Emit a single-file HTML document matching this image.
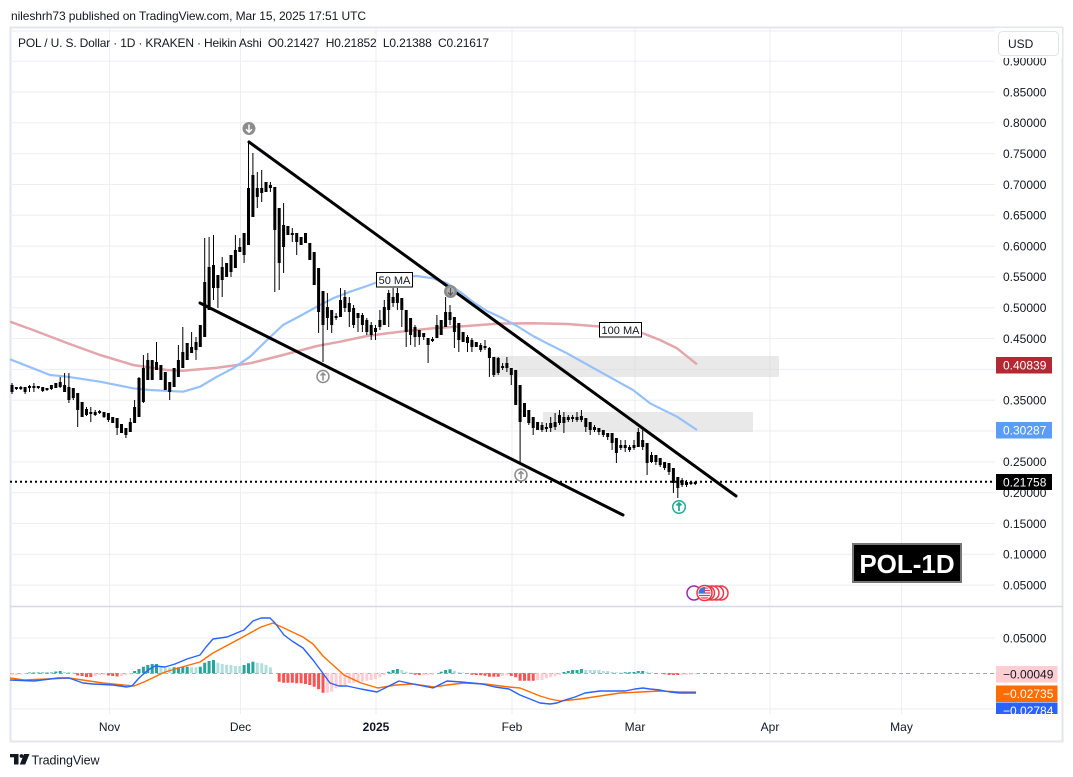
<!DOCTYPE html>
<html><head><meta charset="utf-8"><style>
html,body{margin:0;padding:0;background:#fff;}
svg{display:block;font-family:"Liberation Sans",Arial,sans-serif;}
text{white-space:pre;}
</style></head><body>
<svg width="1073" height="777" viewBox="0 0 1073 777" xmlns="http://www.w3.org/2000/svg">
<defs>
<clipPath id="mainclip"><rect x="10" y="28" width="985" height="578"/></clipPath>
<clipPath id="macdclip"><rect x="10" y="607" width="1053" height="107"/></clipPath>
<clipPath id="flagclip"><circle cx="704.5" cy="593" r="6"/></clipPath>
</defs>
<rect width="1073" height="777" fill="#fff"/>
<!-- header -->
<text x="11" y="20" font-size="12" fill="#131722" textLength="355" lengthAdjust="spacing">nileshrh73 published on TradingView.com, Mar 15, 2025 17:51 UTC</text>
<!-- frame -->
<rect x="10.5" y="27.5" width="1052" height="714" fill="none" stroke="#e3e6ec" stroke-width="2"/>
<!-- gridlines -->
<g stroke="#eceef2" stroke-width="1">
<path d="M10 31H995M10 61.2H995M10 92H995M10 122.8H995M10 153.7H995M10 184.5H995M10 215.3H995M10 246.1H995M10 276.9H995M10 307.8H995M10 338.6H995M10 369.4H995M10 400.2H995M10 431H995M10 461.9H995M10 492.7H995M10 523.5H995M10 554.3H995M10 585.1H995"/>
<path d="M10 638H995M10 709H995"/>
<path d="M109.5 28V714M240.5 28V714M376 28V714M512 28V714M635 28V714M770 28V714M901.5 28V714"/>
</g>
<text x="18" y="47" font-size="12" fill="#131722" textLength="471" lengthAdjust="spacing">POL / U. S. Dollar · 1D · KRAKEN · Heikin Ashi  O0.21427  H0.21852  L0.21388  C0.21617</text>
<g clip-path="url(#mainclip)">
<!-- zones -->
<rect x="492" y="356" width="287" height="21" fill="#d4d4d4" fill-opacity="0.5"/>
<rect x="543" y="412" width="210" height="20" fill="#d4d4d4" fill-opacity="0.5"/>
<!-- MAs -->
<polyline fill="none" stroke="#e2a6ab" stroke-width="2.5" stroke-linejoin="round" points="10,321.7 33,330 67,343 100,355 133,365 167,370 183,370.7 217,367.7 250,363.3 283,355 317,346 340,341.7 367,336 400,331.7 433,328.3 467,326 500,323.5 533,323.3 567,324 600,326.5 620,329 643,333.3 660,340 677,348.3 697,364.3"/>
<polyline fill="none" stroke="#95c1f8" stroke-width="2.2" stroke-linejoin="round" points="10,359.3 33,368.3 50,375 67,376.7 100,381.7 133,388.3 150,390 183,391.7 200,386.7 217,376.7 233,368.3 250,356.7 267,340 283,325 300,316 317,306.7 333,298.3 350,291.7 367,286 383,280 400,276.7 417,276 433,278.3 447,283.3 460,291.7 473,302 487,311 500,317 517,326 533,336 547,343.3 567,353.3 600,371.7 633,390 650,403.3 677,416.7 697,430"/>
<!-- wicks -->
<path stroke="#000" stroke-width="1" fill="none" d="M12 383V394 M16.4 387V390 M20.8 386V390 M25.1 387V394 M29.5 385V392 M33.9 383V392 M38.3 386V389 M42.7 387V392 M47 388V391 M51.4 385V390 M55.8 383V388 M60.2 377V388 M64.6 373V392 M68.9 373V403 M73.3 388V400 M77.7 393V427 M82.1 402V417 M86.5 407V416 M90.8 407V422 M95.2 410V416 M99.6 410V414 M104 412V418 M108.4 413V422 M112.7 417V423 M117.1 418V435 M121.5 424V433 M125.9 428V438 M130.3 418V432 M134.6 400V423 M139 377V417 M143.4 355V403 M147.8 353V380 M152.2 360V380 M156.5 342V370 M160.9 365V380 M165.3 372V390 M169.7 382V400 M174.1 368V387 M178.4 345V377 M182.8 327V368 M187.2 343V360 M191.6 332V353 M196 337V360 M200.3 325V347 M204.7 238V337 M209.1 237V310 M213.5 235V300 M217.9 275V308 M222.2 257V297 M226.6 263V277 M231 255V277 M235.4 235V268 M239.8 238V252 M244.1 233V263 M248.5 142V245 M252.9 153V217 M257.3 172V208 M261.7 170V202 M266 182V192 M270.4 182V192 M274.8 187V292 M279.2 208V290 M283.6 203V273 M287.9 226V235 M292.3 228V242 M296.7 233V255 M301.1 237V245 M305.5 233V243 M309.8 243V260 M314.2 252V285 M318.6 268V333 M323 291V362 M327.4 293V330 M331.7 310V333 M336.1 313V320 M340.5 288V317 M344.9 290V312 M349.3 297V327 M353.6 305V328 M358 313V332 M362.4 313V332 M366.8 318V335 M371.2 322V340 M375.5 325V340 M379.9 310V330 M384.3 300V325 M388.7 290V327 M393.1 288V307 M397.4 288V310 M401.8 298V327 M406.2 310V347 M410.6 318V345 M415 325V347 M419.3 330V345 M423.7 333V340 M428.1 338V363 M432.5 337V342 M436.9 315V338 M441.2 320V335 M445.6 297V327 M450 305V325 M454.4 317V348 M458.8 323V352 M463.1 332V342 M467.5 335V352 M471.9 338V352 M476.3 342V347 M480.7 343V352 M485 340V350 M489.4 347V377 M493.8 357V377 M498.2 357V375 M502.6 363V370 M506.9 357V372 M511.3 368V385 M515.7 370V405 M520.1 385V462 M524.5 403V417 M528.8 410V425 M533.2 417V435 M537.6 422V430 M542 422V432 M546.4 423V432 M550.7 417V432 M555.1 413V430 M559.5 410V425 M563.9 412V433 M568.3 415V422 M572.6 415V422 M577 412V422 M581.4 410V422 M585.8 418V432 M590.2 422V435 M594.5 425V432 M598.9 428V435 M603.3 430V437 M607.7 433V440 M612.1 433V450 M616.4 438V463 M620.8 440V450 M625.2 440V452 M629.6 445V452 M634 440V450 M638.3 428V447 M642.7 430V450 M647.1 443V475 M651.5 452V463 M655.9 455V465 M660.2 458V467 M664.6 462V470 M669 463V475 M673.4 468V493 M677.8 477V498 M682.1 478V487 M686.5 480V487 M690.9 481V485 M695.3 481V485"/>
<!-- bodies -->
<path stroke="#000" stroke-width="3" fill="none" d="M12 385V392 M16.4 387V389 M20.8 387V389 M25.1 387V392 M29.5 386V388 M33.9 386V388 M38.3 386V388 M42.7 387V391 M47 388V390 M51.4 385V389 M55.8 383V388 M60.2 382V387 M64.6 385V392 M68.9 387V400 M73.3 388V398 M77.7 393V410 M82.1 402V417 M86.5 409V415 M90.8 412V414 M95.2 412V415 M99.6 411V413 M104 412V417 M108.4 413V420 M112.7 417V423 M117.1 418V428 M121.5 424V433 M125.9 428V435 M130.3 422V432 M134.6 407V423 M139 378V417 M143.4 368V402 M147.8 360V380 M152.2 360V380 M156.5 362V370 M160.9 365V380 M165.3 372V390 M169.7 382V392 M174.1 368V387 M178.4 360V377 M182.8 352V368 M187.2 343V360 M191.6 347V353 M196 342V350 M200.3 325V347 M204.7 282V337 M209.1 267V310 M213.5 265V288 M217.9 275V288 M222.2 267V280 M226.6 263V277 M231 255V272 M235.4 250V268 M239.8 247V252 M244.1 233V255 M248.5 188V245 M252.9 175V217 M257.3 188V197 M261.7 188V193 M266 182V192 M270.4 185V188 M274.8 187V230 M279.2 208V263 M283.6 225V247 M287.9 226V235 M292.3 233V235 M296.7 233V242 M301.1 237V245 M305.5 233V243 M309.8 243V260 M314.2 252V285 M318.6 268V312 M323 291V325 M327.4 307V318 M331.7 310V325 M336.1 316V318 M340.5 300V317 M344.9 297V308 M349.3 303V312 M353.6 308V325 M358 313V318 M362.4 315V325 M366.8 320V332 M371.2 325V335 M375.5 328V332 M379.9 320V327 M384.3 307V325 M388.7 293V310 M393.1 297V303 M397.4 293V303 M401.8 298V310 M406.2 310V332 M410.6 318V335 M415 327V337 M419.3 330V337 M423.7 333V337 M428.1 338V345 M432.5 339V341 M436.9 325V338 M441.2 320V335 M445.6 312V327 M450 312V320 M454.4 317V332 M458.8 323V340 M463.1 332V342 M467.5 337V343 M471.9 340V347 M476.3 342V347 M480.7 345V350 M485 346V348 M489.4 348V358 M493.8 357V375 M498.2 358V373 M502.6 366V368 M506.9 363V368 M511.3 368V375 M515.7 370V405 M520.1 385V422 M524.5 403V417 M528.8 410V423 M533.2 417V428 M537.6 422V430 M542 425V430 M546.4 427V429 M550.7 423V428 M555.1 422V427 M559.5 415V423 M563.9 417V423 M568.3 417V420 M572.6 417V419 M577 417V420 M581.4 416V420 M585.8 418V427 M590.2 422V430 M594.5 427V430 M598.9 428V432 M603.3 430V435 M607.7 433V437 M612.1 433V443 M616.4 438V453 M620.8 445V448 M625.2 445V448 M629.6 447V450 M634 445V448 M638.3 432V447 M642.7 440V447 M647.1 443V463 M651.5 455V462 M655.9 455V462 M660.2 458V465 M664.6 462V468 M669 463V472 M673.4 468V483 M677.8 477V488 M682.1 480V485 M686.5 482V485 M690.9 482V484 M695.3 482V484"/>
<!-- trendlines -->
<path d="M249 142L736 496M200 303L623 515" stroke="#000" stroke-width="3" stroke-linecap="round" fill="none"/>
<!-- dotted price line -->
<path d="M10 481.7H995" stroke="#000" stroke-width="2" stroke-dasharray="2 3"/>
<!-- markers -->
<circle cx="249" cy="128.5" r="6.5" fill="#8c8c8c"/>
<path d="M249 124.5V132M246 129.2l3 3 3-3" stroke="#fff" stroke-width="1.5" fill="none"/>
<circle cx="450.5" cy="291.5" r="6.5" fill="#8c8c8c"/>
<circle cx="450.5" cy="291.5" r="4" fill="#b0b0b0"/>
<path d="M450.5 288V295M448 292.5l2.5 2.5 2.5-2.5" stroke="#555" stroke-width="1.2" fill="none"/>
<circle cx="323" cy="376.5" r="6" fill="#fff" stroke="#8c8c8c" stroke-width="1.5"/>
<path d="M323 380.5V373M320.5 375.5l2.5-2.5 2.5 2.5" stroke="#8c8c8c" stroke-width="1.5" fill="none"/>
<circle cx="521" cy="475" r="6" fill="#fff" stroke="#8c8c8c" stroke-width="1.5"/>
<path d="M521 479V471.5M518.5 474l2.5-2.5 2.5 2.5" stroke="#8c8c8c" stroke-width="1.5" fill="none"/>
<circle cx="679" cy="507" r="6.3" fill="#fff" stroke="#22ab94" stroke-width="1.5"/>
<path d="M679 511V503M676.5 505.5l2.5-2.5 2.5 2.5" stroke="#22ab94" stroke-width="1.8" fill="none"/>
<!-- labels -->
<rect x="376.5" y="272.5" width="36" height="14.5" fill="#fff" stroke="#000" stroke-width="1"/>
<text x="394.5" y="284" font-size="11" text-anchor="middle" fill="#131722">50 MA</text>
<rect x="599.5" y="322.5" width="42" height="14.5" fill="#fff" stroke="#000" stroke-width="1"/>
<text x="620.5" y="334" font-size="11" text-anchor="middle" fill="#131722">100 MA</text>
<!-- POL-1D -->
<rect x="853" y="544" width="108" height="38" fill="#000" stroke="#767676" stroke-width="2"/>
<text x="907" y="573" font-size="26" font-weight="bold" text-anchor="middle" fill="#fff">POL-1D</text>
<!-- event icons -->
<circle cx="694" cy="593" r="7" fill="#fff" stroke="#9c27b0" stroke-width="1.5"/>
<circle cx="721" cy="593" r="7" fill="#fff" stroke="#f23645" stroke-width="1.5"/>
<circle cx="716.5" cy="593" r="7" fill="#fff" stroke="#f23645" stroke-width="1.5"/>
<circle cx="712" cy="593" r="7" fill="#fff" stroke="#f23645" stroke-width="1.5"/>
<circle cx="707.5" cy="593" r="7" fill="#fff" stroke="#f23645" stroke-width="1.5"/>
<circle cx="704.5" cy="593" r="7.5" fill="#fff" stroke="#f23645" stroke-width="1.5"/>
<g clip-path="url(#flagclip)">
<rect x="698" y="587" width="13" height="12" fill="#fff"/>
<path d="M698 588H711M698 590.5H711M698 593H711M698 595.5H711M698 598H711" stroke="#f23645" stroke-width="1.2"/>
<rect x="698" y="587" width="7" height="6" fill="#3c78d8"/>
</g>
</g>
<!-- pane separator -->
<path d="M10 606.5H1063" stroke="#d6d8e3" stroke-width="1.5"/>
<!-- MACD -->
<g clip-path="url(#macdclip)">
<path d="M10 673.5H995" stroke="#a3a6af" stroke-width="1" stroke-dasharray="4 3"/>
<path stroke="#26a69a" stroke-width="3" fill="none" d="M29.5 673.3V672.5 M33.9 673.3V672.5 M38.3 673.3V672.5 M42.7 673.3V672.5 M47 673.3V672.5 M51.4 673.3V672.5 M55.8 673.3V671.5 M60.2 673.3V671 M134.6 673.3V671 M139 673.3V669 M143.4 673.3V666.7 M147.8 673.3V665 M152.2 673.3V664 M156.5 673.3V664 M174.1 673.3V667.3 M178.4 673.3V667.3 M182.8 673.3V666.7 M187.2 673.3V666.7 M200.3 673.3V666.7 M204.7 673.3V662.7 M209.1 673.3V661 M213.5 673.3V660 M244.1 673.3V665 M248.5 673.3V663.3 M252.9 673.3V661.7 M388.7 673.3V671.7 M393.1 673.3V670 M397.4 673.3V669 M441.2 673.3V671.7 M445.6 673.3V670 M450 673.3V669.3 M563.9 673.3V672 M568.3 673.3V671 M572.6 673.3V670 M577 673.3V670 M581.4 673.3V669 M625.2 673.3V672.2 M629.6 673.3V672.2 M634 673.3V672 M638.3 673.3V671 M642.7 673.3V671"/>
<path stroke="#b2dfdb" stroke-width="3" fill="none" d="M64.6 673.3V672 M68.9 673.3V672 M73.3 673.3V672.5 M160.9 673.3V667.3 M165.3 673.3V667.7 M169.7 673.3V667.7 M191.6 673.3V667.3 M196 673.3V667.3 M217.9 673.3V662.7 M222.2 673.3V664 M226.6 673.3V665 M231 673.3V665 M235.4 673.3V666 M239.8 673.3V666 M257.3 673.3V662.7 M261.7 673.3V663.3 M266 673.3V665 M270.4 673.3V667.3 M401.8 673.3V670 M406.2 673.3V671.7 M410.6 673.3V672.5 M454.4 673.3V670.7 M458.8 673.3V672.3 M463.1 673.3V672.5 M585.8 673.3V670 M590.2 673.3V670 M594.5 673.3V670 M598.9 673.3V670 M603.3 673.3V671 M607.7 673.3V671 M612.1 673.3V672 M616.4 673.3V672.3 M620.8 673.3V672.5 M647.1 673.3V672 M651.5 673.3V672.5"/>
<path stroke="#ff5252" stroke-width="3" fill="none" d="M77.7 673.3V675.5 M82.1 673.3V676 M86.5 673.3V677 M90.8 673.3V677 M108.4 673.3V675.5 M112.7 673.3V676 M117.1 673.3V676.5 M279.2 673.3V681.7 M283.6 673.3V682.7 M287.9 673.3V682.7 M292.3 673.3V682.7 M296.7 673.3V683.3 M301.1 673.3V683.3 M305.5 673.3V684 M309.8 673.3V685 M314.2 673.3V686.7 M318.6 673.3V689.3 M323 673.3V692.7 M415 673.3V674.7 M419.3 673.3V675 M471.9 673.3V674.7 M476.3 673.3V675 M480.7 673.3V675.3 M485 673.3V675.7 M489.4 673.3V676.7 M493.8 673.3V676.7 M498.2 673.3V676.7 M511.3 673.3V676 M515.7 673.3V677.3 M520.1 673.3V680.7 M524.5 673.3V680.7 M528.8 673.3V680.7 M533.2 673.3V680.7 M664.6 673.3V674.2 M669 673.3V675 M673.4 673.3V675 M677.8 673.3V675"/>
<path stroke="#ffcdd2" stroke-width="3" fill="none" d="M12 673.3V675 M16.4 673.3V675 M20.8 673.3V674.5 M25.1 673.3V674 M95.2 673.3V676 M99.6 673.3V675 M104 673.3V675 M121.5 673.3V676 M125.9 673.3V675 M130.3 673.3V674.5 M327.4 673.3V692.7 M331.7 673.3V691.7 M336.1 673.3V688.3 M340.5 673.3V686.7 M344.9 673.3V685 M349.3 673.3V683.3 M353.6 673.3V682.7 M358 673.3V681.7 M362.4 673.3V681.7 M366.8 673.3V680.7 M371.2 673.3V680 M375.5 673.3V679.3 M379.9 673.3V677.3 M384.3 673.3V675 M423.7 673.3V675.3 M428.1 673.3V675.3 M432.5 673.3V674.7 M502.6 673.3V676 M506.9 673.3V675 M537.6 673.3V680 M542 673.3V680 M546.4 673.3V678.3 M550.7 673.3V677.3 M555.1 673.3V676 M559.5 673.3V674.7 M682.1 673.3V675.3 M686.5 673.3V674.7 M690.9 673.3V674.7 M695.3 673.3V674.3"/>
<polyline fill="none" stroke="#ff6d00" stroke-width="1.4" stroke-linejoin="round" points="10,678 24,680 69,678 103,683 134,686 144,682 165,672 182,667 200,662 213,653 241,638 261,627 273,623 286,629 303,637 313,644 323,656 334,666 344,675 361,683 378,688 396,685 413,684 434,687 447,685 464,683 485,684 509,687 520,688 530,692 540,696 550,699 560,701 570,700 580,699 600,696 620,693 640,692 660,691 680,692 696,692"/>
<polyline fill="none" stroke="#2962ff" stroke-width="1.4" stroke-linejoin="round" points="10,680 34,681 58,678 69,678 83,683 93,684 113,685 127,687 132,686 139,678 148,670 155,666 165,667 175,664 187,659 200,655 206,647 213,639 227,637 244,630 253,621 261,618 270,618 275,623 284,635 292,641 303,648 313,660 322,672 330,683 339,686 347,686 361,689 377,692 389,686 399,681 413,684 433,688 447,681 461,682 482,684 495,687 509,689 520,695 530,699 540,703 550,704 557,703 565,700 575,697 585,693 600,691 612,691 625,691 635,689 643,688 650,689 660,690 670,692 680,693 696,693"/>
</g>
<!-- price axis -->
<g font-size="12" fill="#131722">
<text x="1003" y="65.5">0.90000</text>
<rect x="995" y="28" width="67" height="30" fill="#fff"/>
<rect x="998.5" y="31.5" width="60" height="24" rx="4" fill="#fff" stroke="#e0e3eb" stroke-width="1"/>
<text x="1008" y="48">USD</text>
<text x="1003" y="96.3">0.85000</text>
<text x="1003" y="127.1">0.80000</text>
<text x="1003" y="158">0.75000</text>
<text x="1003" y="188.8">0.70000</text>
<text x="1003" y="219.6">0.65000</text>
<text x="1003" y="250.4">0.60000</text>
<text x="1003" y="281.2">0.55000</text>
<text x="1003" y="312.1">0.50000</text>
<text x="1003" y="342.9">0.45000</text>
<text x="1003" y="404.5">0.35000</text>
<text x="1003" y="466.2">0.25000</text>
<text x="1003" y="497">0.20000</text>
<text x="1003" y="527.8">0.15000</text>
<text x="1003" y="558.6">0.10000</text>
<text x="1003" y="589.4">0.05000</text>
<text x="1003" y="642.3">0.05000</text>
</g>
<rect x="996" y="357" width="56" height="16.5" fill="#b22833"/>
<text x="1003" y="369.5" font-size="12" fill="#fff">0.40839</text>
<rect x="996" y="422" width="56" height="16.5" fill="#5b9cf6"/>
<text x="1003" y="434.5" font-size="12" fill="#fff">0.30287</text>
<rect x="996" y="474" width="56" height="16" fill="#000"/>
<text x="1003" y="486.3" font-size="12" fill="#fff">0.21758</text>
<g clip-path="url(#macdclip)">
<rect x="996" y="666" width="61.5" height="16.5" fill="#ffcdd2"/>
<text x="1003" y="678.5" font-size="12" fill="#131722">−0.00049</text>
<rect x="996" y="685.5" width="61.5" height="16.5" fill="#ff6d00"/>
<text x="1003" y="698" font-size="12" fill="#fff">−0.02735</text>
<rect x="996" y="702.5" width="61.5" height="16.5" fill="#2962ff"/>
<text x="1003" y="715" font-size="12" fill="#fff">−0.02784</text>
</g>
<!-- time axis -->
<g font-size="12" fill="#131722" text-anchor="middle">
<text x="109.5" y="731">Nov</text>
<text x="240.5" y="731">Dec</text>
<text x="376" y="731" font-weight="bold">2025</text>
<text x="512" y="731">Feb</text>
<text x="635" y="731">Mar</text>
<text x="770" y="731">Apr</text>
<text x="901.5" y="731">May</text>
</g>
<!-- footer logo -->
<g fill="#131722">
<rect x="10" y="754" width="8.5" height="3.3"/>
<rect x="14" y="754" width="4.5" height="10.5"/>
<circle cx="21.5" cy="756" r="1.9"/>
<polygon points="24,754 29.5,754 25.2,764.5 19.8,764.5"/>
</g>
<text x="31.5" y="764.5" font-size="12.5" fill="#131722" textLength="68" lengthAdjust="spacing">TradingView</text>
</svg>
</body></html>
